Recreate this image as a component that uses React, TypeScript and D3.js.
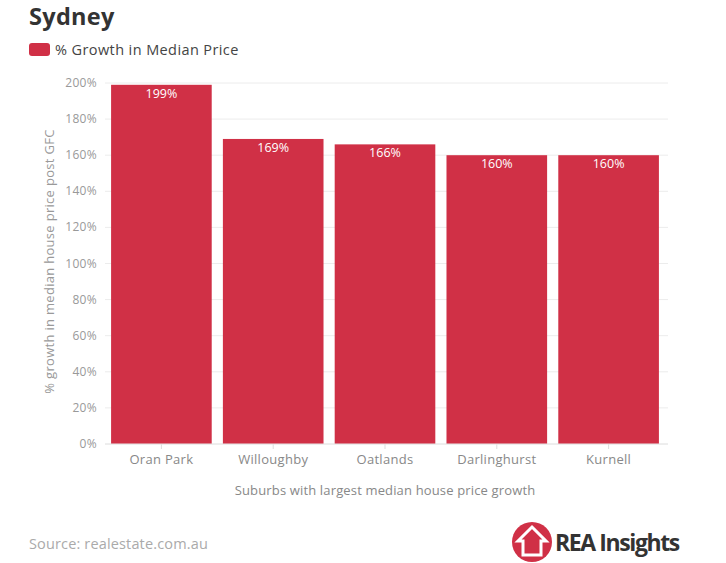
import React from "react";
import * as d3 from "d3";

const suburbs = ["Oran Park", "Willoughby", "Oatlands", "Darlinghurst", "Kurnell"];
const growth = [199, 169, 166, 160, 160];
const yTicks = [0, 20, 40, 60, 80, 100, 120, 140, 160, 180, 200];

const W = 726, H = 563;
const m = { left: 105, right: 58, top: 83, bottom: 119 };
const RED = "#d03046";
const FONT = "'Open Sans', Lato, sans-serif";

export default function App() {
  const x = d3.scaleBand<string>().domain(suburbs).range([105.5, 664.5]).paddingInner(0.1).paddingOuter(0.05);
  const y = d3.scaleLinear().domain([0, 200]).range([H - m.bottom, m.top]);
  const x0 = m.left, x1 = W - m.right;
  return (
    <svg width={W} height={H} style={{ position: "absolute", left: 0, top: 0, background: "#fff" }} fontFamily={FONT}>
      <text x={29} y={25} fontSize={23.5} fontWeight={700} fill="#333" letterSpacing={0.3}>Sydney</text>
      <rect x={29} y={43} width={21} height={13} rx={3} fill={RED} />
      <text x={55} y={55} fontSize={14.5} fill="#444" letterSpacing={0.4}>% Growth in Median Price</text>
      {yTicks.map(t => (
        <g key={t}>
          <line x1={x0} x2={x1} y1={y(t)} y2={y(t)} stroke="#ececec" strokeWidth={1} />
          <text x={97} y={y(t) + 4} textAnchor="end" fontSize={12} fill="#999" letterSpacing={0.3}>{t}%</text>
        </g>
      ))}
      {suburbs.map((s, i) => (
        <g key={s}>
          <rect x={x(s)} y={y(growth[i])} width={x.bandwidth()} height={y(0) - y(growth[i])} fill={RED} />
          <text x={(x(s) as number) + x.bandwidth() / 2} y={y(growth[i]) + 13} textAnchor="middle" fontSize={12.5} fill="#fff">{growth[i]}%</text>
          <line x1={(x(s) as number) + x.bandwidth() / 2} x2={(x(s) as number) + x.bandwidth() / 2} y1={y(0)} y2={y(0) + 5} stroke="#ddd" />
          <text x={(x(s) as number) + x.bandwidth() / 2} y={y(0) + 20} textAnchor="middle" fontSize={13} fill="#888" letterSpacing={0.3}>{s}</text>
        </g>
      ))}
      <line x1={x0} x2={x1} y1={y(0)} y2={y(0)} stroke="#e6e6e6" />
      <text transform={`translate(54,${(y(0) + y(200)) / 2 - 2}) rotate(-90)`} textAnchor="middle" fontSize={13} fill="#999" letterSpacing={0.3}>% growth in median house price post GFC</text>
      <text x={385} y={495} textAnchor="middle" fontSize={13} fill="#888" letterSpacing={0.15}>Suburbs with largest median house price growth</text>
      <text x={29} y={549} fontSize={14.5} fill="#aaa" letterSpacing={0.15}>Source: realestate.com.au</text>
      <g>
        <circle cx={532} cy={542} r={20} fill={RED} />
        <path d="M532,527 L546,541 L541,541 L541,555 L523,555 L523,541 L518,541 Z" fill="none" stroke="#fff" strokeWidth={3} strokeLinejoin="miter" />
        <text x={555} y={551} fontSize={23} fontWeight={700} fill="#333" letterSpacing={-1.4} fontFamily="'Open Sans', sans-serif">REA Insights</text>
      </g>
    </svg>
  );
}
